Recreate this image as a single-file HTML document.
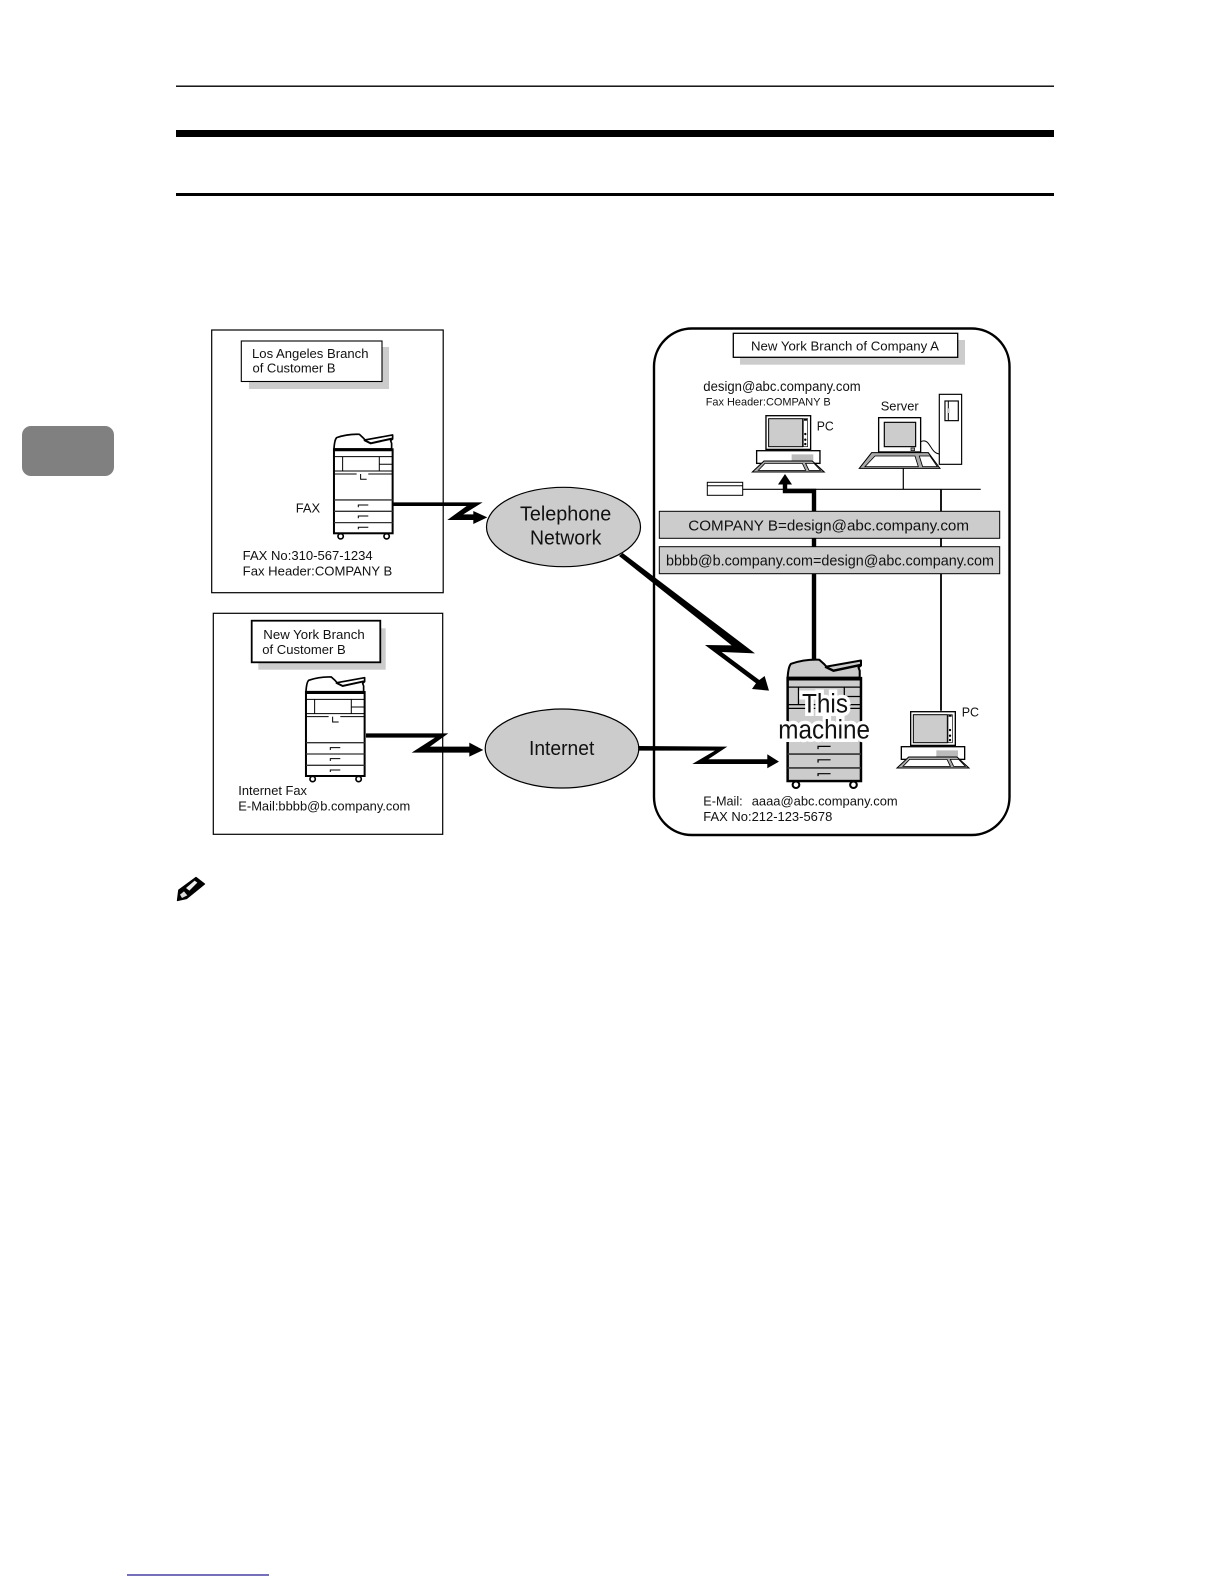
<!DOCTYPE html>
<html>
<head>
<meta charset="utf-8">
<style>
html,body{margin:0;padding:0;background:#fff;width:1224px;height:1584px;overflow:hidden}
svg{display:block}
text{font-family:"Liberation Sans",sans-serif;fill:#111}
</style>
</head>
<body>
<svg width="1224" height="1584" viewBox="0 0 1224 1584" xmlns="http://www.w3.org/2000/svg">
<defs>
<g id="copier">
  <path d="M2 47 C3 30 5 18 10 13 C30 6 55 2 78 3 L90 14 L95 20 L178 5 L178 17 L172 22 L175 30 L175 47 Z" stroke="#000" stroke-width="5" stroke-linejoin="round"/>
  <path d="M92 20 L112 30 L176 16" fill="none" stroke="#000" stroke-width="6"/>
  <rect x="2" y="48" width="176" height="252" stroke="#000" stroke-width="6"/>
  <path d="M2 51 H178" stroke="#000" stroke-width="6" fill="none"/>
  <path d="M2 70 H178 M28 70 V113 M138 70 V113 M138 93 H178 M2 113 H178 M2 122 H70 M105 122 H178" fill="none" stroke="#000" stroke-width="3"/>
  <path d="M82 122 V138 H100" fill="none" stroke="#000" stroke-width="3"/>
  <path d="M2 200 H178 M2 234 H178 M2 268 H178" fill="none" stroke="#333" stroke-width="4"/>
  <path d="M75 222 V215 H105 M75 255 V248 H105 M75 288 V282 H105" fill="none" stroke="#000" stroke-width="3"/>
  <circle cx="22" cy="309" r="8" fill="#fff" stroke="#000" stroke-width="5"/>
  <circle cx="160" cy="309" r="8" fill="#fff" stroke="#000" stroke-width="5"/>
</g>
<g id="pc">
  <rect x="41" y="0" width="134" height="101" fill="#fff" stroke="#000" stroke-width="4"/>
  <rect x="49" y="9" width="102" height="84" fill="#ccc" stroke="#000" stroke-width="3"/>
  <rect x="153" y="9" width="13" height="84" fill="#fff" stroke="#000" stroke-width="2"/>
  <rect x="155" y="9" width="9" height="6" fill="#000"/>
  <circle cx="159" cy="55" r="3.5" fill="#000"/><circle cx="159" cy="72" r="3.5" fill="#000"/><circle cx="159" cy="85" r="3.5" fill="#000"/>
  <rect x="13" y="105" width="190" height="38" fill="#fff" stroke="#000" stroke-width="4"/>
  <rect x="118" y="116" width="65" height="19" fill="#bbb"/>
  <polygon points="0,169 35,136 180,136 216,169" fill="#aaa" stroke="#000" stroke-width="3"/>
  <polygon points="18,164 38,143 150,143 160,164" fill="#fff" stroke="#000" stroke-width="2.5"/>
  <polygon points="170,164 160,143 185,143 205,164" fill="#fff" stroke="#000" stroke-width="2.5"/>
</g>
</defs>

<!-- page furniture -->
<rect x="176" y="85.5" width="878" height="1.4" fill="#000"/>
<rect x="176" y="130" width="878" height="7" fill="#000"/>
<rect x="176" y="193" width="878" height="3" fill="#000"/>
<rect x="22" y="426" width="92" height="50" rx="9" fill="#808080"/>
<rect x="127" y="1574.4" width="142" height="1.2" fill="#1a0f8c"/>

<!-- pencil note -->
<g transform="translate(160 860) scale(.3333)">
  <polygon points="108,52 134,72 80,116 52,122 56,90" fill="#000" stroke="#000" stroke-width="3" stroke-linejoin="round"/>
  <polygon points="78,84 104,62 112,68 88,92" fill="#eee"/>
  <polygon points="60,104 72,94 82,106 66,114" fill="#ddd"/>
</g>

<!-- LA box -->
<rect x="211.7" y="330" width="231.5" height="262.7" fill="#fff" stroke="#000" stroke-width="1.2"/>
<rect x="249" y="347" width="140" height="42" fill="#ccc"/>
<rect x="241.3" y="341" width="140.7" height="40.5" fill="#fff" stroke="#000" stroke-width="1.1"/>
<text x="252" y="358" font-size="13" textLength="116.5" lengthAdjust="spacingAndGlyphs">Los Angeles Branch</text>
<text x="252.5" y="372.5" font-size="13" textLength="83" lengthAdjust="spacingAndGlyphs">of Customer B</text>
<use href="#copier" transform="translate(333.3 433.3) scale(.3333)" fill="#fff"/>
<text x="295.7" y="512.7" font-size="13" textLength="24.5" lengthAdjust="spacingAndGlyphs">FAX</text>
<text x="242.7" y="560" font-size="13" textLength="130" lengthAdjust="spacingAndGlyphs">FAX No:310-567-1234</text>
<text x="242.7" y="575.3" font-size="13" textLength="149.6" lengthAdjust="spacingAndGlyphs">Fax Header:COMPANY B</text>

<!-- NY customer box -->
<rect x="213.3" y="613.3" width="229.4" height="221" fill="#fff" stroke="#000" stroke-width="1.2"/>
<rect x="258.3" y="628.3" width="127.4" height="41.4" fill="#ccc"/>
<rect x="251.7" y="620.7" width="128.6" height="41.6" fill="#fff" stroke="#000" stroke-width="1.8"/>
<text x="263.3" y="639" font-size="13" textLength="101.4" lengthAdjust="spacingAndGlyphs">New York Branch</text>
<text x="262.3" y="654" font-size="13" textLength="83.4" lengthAdjust="spacingAndGlyphs">of Customer B</text>
<use href="#copier" transform="translate(305.3 676) scale(.3333)" fill="#fff"/>
<text x="238.3" y="795" font-size="13" textLength="68.7" lengthAdjust="spacingAndGlyphs">Internet Fax</text>
<text x="238.3" y="810.3" font-size="13" textLength="172" lengthAdjust="spacingAndGlyphs">E-Mail:bbbb@b.company.com</text>

<!-- Company A rounded box -->
<rect x="654" y="328.5" width="355.5" height="506.5" rx="38" ry="38" fill="#fff" stroke="#000" stroke-width="2.4"/>
<rect x="740" y="340" width="225" height="24.7" fill="#ccc"/>
<rect x="733.3" y="333.3" width="224.4" height="24" fill="#fff" stroke="#000" stroke-width="1.3"/>
<text x="751" y="350.7" font-size="13" textLength="188" lengthAdjust="spacingAndGlyphs">New York Branch of Company A</text>
<text x="703.3" y="391" font-size="13.5" textLength="157.4" lengthAdjust="spacingAndGlyphs">design@abc.company.com</text>
<text x="705.7" y="405.7" font-size="11" textLength="125" lengthAdjust="spacingAndGlyphs">Fax Header:COMPANY B</text>
<text x="880.7" y="410.7" font-size="13" textLength="38" lengthAdjust="spacingAndGlyphs">Server</text>
<text x="816.7" y="430.3" font-size="13" textLength="17" lengthAdjust="spacingAndGlyphs">PC</text>

<!-- network wiring -->
<path d="M742.7 489.3 H980.7 M903.3 468 V489.3" fill="none" stroke="#000" stroke-width="1.2"/>
<rect x="707.3" y="482.3" width="35.4" height="13" fill="#fff" stroke="#000" stroke-width="1"/>
<path d="M707.3 485.7 H742.7" stroke="#000" stroke-width="1"/>
<path d="M941 489.3 V710.7" stroke="#000" stroke-width="1.8" fill="none"/>
<path d="M814 660 V491 H785 V483" fill="none" stroke="#000" stroke-width="4.4"/>
<polygon points="785,474 792,484.5 778,484.5" fill="#000"/>

<!-- PCs -->
<use href="#pc" transform="translate(752.3 415.7) scale(.3333)"/>
<use href="#pc" transform="translate(897 711.7) scale(.3333)"/>
<text x="961.7" y="716.7" font-size="13" textLength="17.3" lengthAdjust="spacingAndGlyphs">PC</text>

<!-- server -->
<g transform="translate(640 320) scale(.3333)">
  <rect x="898" y="223" width="67" height="210" fill="#fff" stroke="#000" stroke-width="3.5"/>
  <rect x="915" y="243" width="40" height="59" fill="#fff" stroke="#000" stroke-width="3.5"/>
  <path d="M925 243 V302" stroke="#000" stroke-width="3" fill="none"/>
  <rect x="921" y="265" width="8" height="14" fill="#ccc"/>
  <path d="M842 365 C872 352 868 398 898 402" fill="none" stroke="#000" stroke-width="3"/>
  <rect x="716" y="293" width="126" height="103" fill="#fff" stroke="#000" stroke-width="4"/>
  <rect x="733" y="307" width="94" height="73" fill="#ccc" stroke="#000" stroke-width="3.5"/>
  <rect x="813" y="384" width="11" height="8" fill="#aaa" stroke="#000" stroke-width="2"/>
  <polygon points="658,445 695,398 865,398 900,445" fill="#aaa" stroke="#000" stroke-width="3"/>
  <polygon points="675,440 705,408 825,408 835,440" fill="#fff" stroke="#000" stroke-width="2.5"/>
  <polygon points="848,440 838,408 870,408 892,440" fill="#fff" stroke="#000" stroke-width="2.5"/>
</g>

<!-- gray rule bars -->
<rect x="659.3" y="511.3" width="340.4" height="27" fill="#ccc" stroke="#000" stroke-width="1"/>
<rect x="659.3" y="546.7" width="340.4" height="27" fill="#ccc" stroke="#000" stroke-width="1"/>
<text x="688.3" y="530.7" font-size="15" textLength="280.7" lengthAdjust="spacingAndGlyphs">COMPANY B=design@abc.company.com</text>
<text x="666" y="565.7" font-size="15" textLength="328" lengthAdjust="spacingAndGlyphs">bbbb@b.company.com=design@abc.company.com</text>

<!-- This machine -->
<use href="#copier" transform="translate(786.8 658.5) scale(.4167 .4085)" fill="#ccc"/>
<text x="802" y="712.3" font-size="27" textLength="46" lengthAdjust="spacingAndGlyphs" stroke="#fff" stroke-width="7" stroke-linejoin="miter" style="fill:#fff">This</text>
<text x="778.3" y="738.3" font-size="27" textLength="91.7" lengthAdjust="spacingAndGlyphs" stroke="#fff" stroke-width="7" stroke-linejoin="miter" style="fill:#fff">machine</text>
<text x="802" y="712.3" font-size="27" textLength="46" lengthAdjust="spacingAndGlyphs">This</text>
<text x="778.3" y="738.3" font-size="27" textLength="91.7" lengthAdjust="spacingAndGlyphs">machine</text>
<text x="703.3" y="805.7" font-size="13" textLength="39.4" lengthAdjust="spacingAndGlyphs">E-Mail:</text>
<text x="751.7" y="805.7" font-size="13" textLength="146" lengthAdjust="spacingAndGlyphs">aaaa@abc.company.com</text>
<text x="703.3" y="821" font-size="13" textLength="129" lengthAdjust="spacingAndGlyphs">FAX No:212-123-5678</text>

<!-- clouds -->
<ellipse cx="563.5" cy="527" rx="77" ry="39.7" fill="#ccc" stroke="#000" stroke-width="1.2"/>
<ellipse cx="562" cy="748.5" rx="76.8" ry="39.5" fill="#ccc" stroke="#000" stroke-width="1.2"/>
<text x="520" y="520.7" font-size="20" textLength="91.3" lengthAdjust="spacingAndGlyphs">Telephone</text>
<text x="530" y="544.7" font-size="20" textLength="71.3" lengthAdjust="spacingAndGlyphs">Network</text>
<text x="529" y="755" font-size="20" textLength="65.3" lengthAdjust="spacingAndGlyphs">Internet</text>

<!-- lightning connectors -->
<g transform="translate(200 320) scale(.3333)">
  <polygon points="580,547 848,547 790,583 820,583 820,573 862,592 820,612 820,600 742,600 800,558 580,558" fill="#000"/>
</g>
<g transform="translate(200 600) scale(.3333)">
  <polygon points="498,400 745,400 690,440 808,440 808,428 850,450 808,470 808,458 635,458 705,413 498,413" fill="#000"/>
</g>
<g transform="translate(440 470) scale(.3333)">
  <polygon points="537,258 548,249 945,550 845,546 958,630 974,618 987,662 936,657 948,640 795,525 875,526" fill="#000"/>
  <polygon points="595,828 862,830 805,868 982,868 982,853 1017,875 982,895 982,882 757,882 825,842 595,842" fill="#000"/>
</g>
</svg>
</body>
</html>
